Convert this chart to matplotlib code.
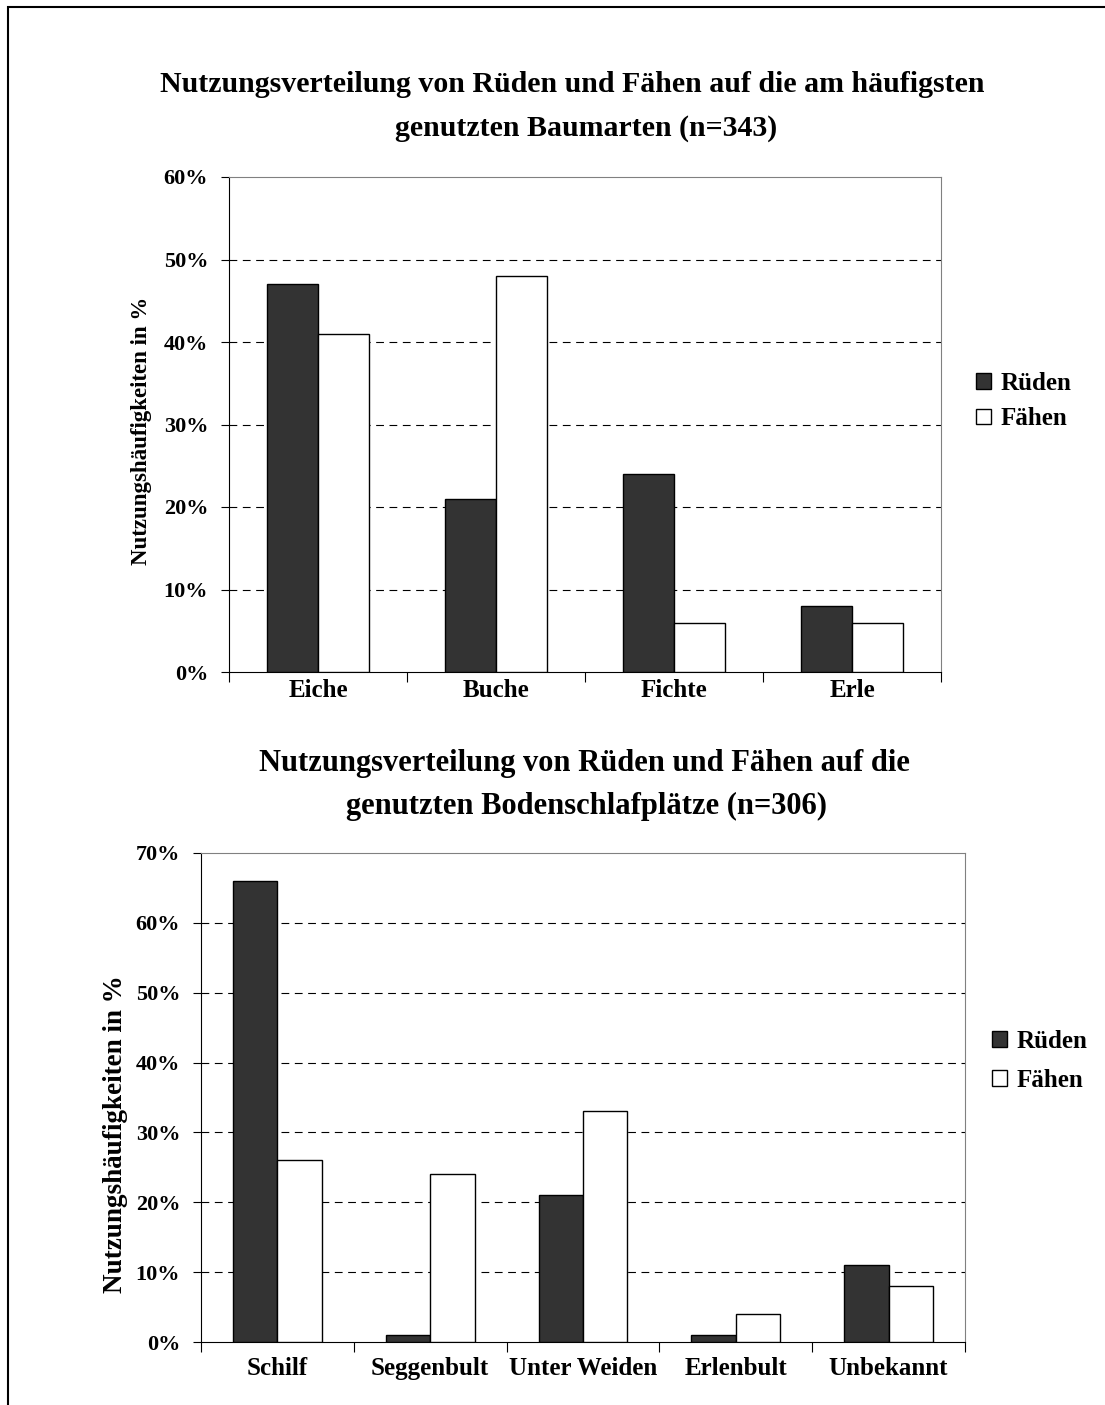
import numpy as np
import matplotlib.pyplot as plt
from matplotlib.patches import Rectangle, Patch

plt.rcParams['font.family'] = ['Liberation Serif', 'DejaVu Serif']
plt.rcParams['font.weight'] = 'bold'

W, H = 1105, 1405

# top chart data
baum = ['Eiche', 'Buche', 'Fichte', 'Erle']
baum_rueden = [47, 21, 24, 8]
baum_faehen = [41, 48, 6, 6]

# bottom chart data
boden = ['Schilf', 'Seggenbult', 'Unter Weiden', 'Erlenbult', 'Unbekannt']
boden_rueden = [66, 1, 21, 1, 11]
boden_faehen = [26, 24, 33, 4, 8]

fig = plt.figure(figsize=(W / 100, H / 100), dpi=100)

# outer frame
fig.patches.append(Rectangle((8 / W, -0.01), 1.1, (H - 7) / H + 0.01, transform=fig.transFigure,
                             fill=False, edgecolor='black', linewidth=1.5))


def px_axes(left, top, right, bottom):
    return fig.add_axes([left / W, 1 - bottom / H, (right - left) / W, (bottom - top) / H])


def ftext(x, y, s, **kw):
    fig.text(x / W, 1 - y / H, s, ha='center', va='center', fontweight='bold', **kw)


def draw(ax, cats, r, f, ymax, bw, xpad, leg_xy, leg_space):
    n = len(cats)
    x = np.arange(n) + 0.5
    ax.bar(x - bw / 2, r, bw, color='#333333', edgecolor='black', linewidth=1, zorder=3)
    ax.bar(x + bw / 2, f, bw, color='white', edgecolor='black', linewidth=1, zorder=3)
    ax.set_xlim(0, n)
    ax.set_ylim(0, ymax)
    yt = np.arange(0, ymax + 1, 10)
    ax.set_yticks(yt)
    ax.set_yticklabels([f'{v}%' for v in yt], fontsize=16, fontweight='bold')
    for v in yt[1:-1]:
        ax.axhline(v, color='black', linestyle=(0, (7, 5)), linewidth=0.8, zorder=1)
    ax.set_xticks(np.arange(n + 1))
    ax.set_xticklabels([])
    ax.set_xticks(x, minor=True)
    ax.set_xticklabels(cats, minor=True, fontsize=18, fontweight='bold')
    ax.tick_params(axis='x', which='major', length=7, direction='out')
    ax.tick_params(axis='x', which='minor', length=0, pad=xpad)
    ax.tick_params(axis='y', length=6, direction='out', pad=9)
    ax.spines['top'].set_color('#808080')
    ax.spines['right'].set_color('#808080')
    handles = [Patch(facecolor='#333333', edgecolor='black', label='Rüden'),
               Patch(facecolor='white', edgecolor='black', label='Fähen')]
    fig.legend(handles=handles, loc='center left', bbox_to_anchor=(leg_xy[0] / W, 1 - leg_xy[1] / H),
               frameon=False, prop={'size': 18, 'weight': 'bold'}, handlelength=0.6, handleheight=0.6,
               handletextpad=0.4, labelspacing=leg_space, borderpad=0, borderaxespad=0)


ax1 = px_axes(229, 177, 941, 672)
draw(ax1, baum, baum_rueden, baum_faehen, 60, 0.285, 5, (976, 401), 0.5)
ftext(572, 85, 'Nutzungsverteilung von Rüden und Fähen auf die am häufigsten', fontsize=21.5)
ftext(586, 128, 'genutzten Baumarten (n=343)', fontsize=21.5)
ftext(141, 431, 'Nutzungshäufigkeiten in %', fontsize=16.5, rotation=90)

ax2 = px_axes(201, 853, 965, 1342)
draw(ax2, boden, boden_rueden, boden_faehen, 70, 0.29, 11, (992, 1061), 0.65)
ftext(584, 763, 'Nutzungsverteilung von Rüden und Fähen auf die', fontsize=22)
ftext(586, 806, 'genutzten Bodenschlafplätze (n=306)', fontsize=22)
ftext(116, 1134, 'Nutzungshäufigkeiten in %', fontsize=19.5, rotation=90)

fig.savefig('out.png', dpi=100)
